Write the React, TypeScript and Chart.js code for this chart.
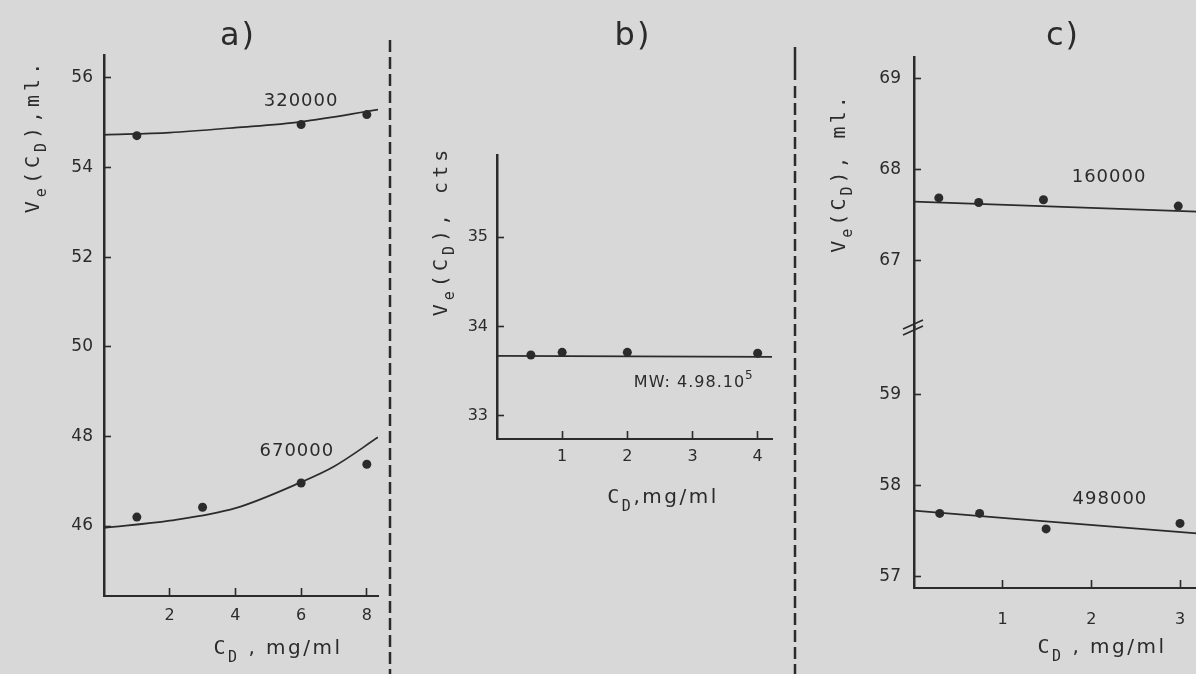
import React, { useEffect, useRef } from 'react';
import { Chart, registerables } from 'chart.js';

Chart.register(...registerables);

// ---------------- data ----------------
// panel a)
const a320X = [1, 6, 8];
const a320Y = [54.71, 54.96, 55.18];
const a320CurveX = [0, 2, 4, 6, 8.34];
const a320CurveY = [54.73, 54.78, 54.89, 55.02, 55.29];
const a670X = [1, 3, 6, 8];
const a670Y = [46.2, 46.42, 46.96, 47.38];
const a670CurveX = [0, 2, 4, 6, 7, 8.34];
const a670CurveY = [45.96, 46.12, 46.4, 46.98, 47.33, 47.98];
const aXTicks = [2, 4, 6, 8];
const aYTicks = [46, 48, 50, 52, 54, 56];

// panel b)
const bX = [0.52, 1, 2, 4];
const bY = [33.68, 33.71, 33.71, 33.7];
const bLineX = [0, 4.22];
const bLineY = [33.67, 33.66];
const bXTicks = [1, 2, 3, 4];
const bYTicks = [33, 34, 35];

// panel c)
const c160X = [0.28, 0.73, 1.46, 2.98];
const c160Y = [67.69, 67.64, 67.67, 67.6];
const c160LineX = [0, 3.19];
const c160LineY = [67.65, 67.54];
const c498X = [0.29, 0.74, 1.49, 3.0];
const c498Y = [57.69, 57.69, 57.52, 57.58];
const c498LineX = [0, 3.19];
const c498LineY = [57.72, 57.47];
const cXTicks = [1, 2, 3];
const cYTicksTop = [67, 68, 69];
const cYTicksBottom = [57, 58, 59];

// ---------------- style ----------------
const INK = '#2b2b2b';
const BG = '#d8d8d8';
const MONO = "'DejaVu Sans Mono', 'Liberation Mono', monospace";
const SANS = "'DejaVu Sans', 'Noto Sans', sans-serif";
const H = 674;

type Part = { t: string; font: string; dy?: number };

function drawParts(ctx: CanvasRenderingContext2D, parts: Part[], cx: number, baseY: number, rot: number, spacing: number) {
  ctx.save();
  ctx.translate(cx, baseY);
  ctx.rotate(rot);
  (ctx as any).letterSpacing = spacing + 'px';
  ctx.textAlign = 'left';
  ctx.textBaseline = 'alphabetic';
  ctx.fillStyle = INK;
  const widths = parts.map((p) => {
    ctx.font = p.font;
    return ctx.measureText(p.t).width;
  });
  const total = widths.reduce((s, w) => s + w, 0);
  let x = -total / 2;
  parts.forEach((p, i) => {
    ctx.font = p.font;
    ctx.fillText(p.t, x, p.dy || 0);
    x += widths[i];
  });
  ctx.restore();
}

const zip = (xs: number[], ys: number[]) => xs.map((x, i) => ({ x, y: ys[i] }));

const fixedTicks = (values: number[]) => (scale: any) => {
  scale.ticks = values.map((v) => ({ value: v }));
};

function xScale(min: number, max: number, ticks: number[], pad: number, h: number) {
  return {
    type: 'linear',
    position: 'bottom',
    min,
    max,
    afterBuildTicks: fixedTicks(ticks),
    afterFit: (s: any) => {
      s.height = h;
      s.paddingLeft = 0;
      s.paddingRight = 0;
    },
    border: { display: true, color: INK, width: 2 },
    grid: { drawOnChartArea: false, drawTicks: true, tickLength: -8, tickColor: INK, tickWidth: 1.6 },
    ticks: { color: INK, font: { family: SANS, size: 16 }, padding: pad, maxRotation: 0, autoSkip: false },
  };
}

function yScale(min: number, max: number, ticks: number[], size: number, pad: number, w: number, extra: any = {}) {
  return {
    type: 'linear',
    position: 'left',
    min,
    max,
    afterBuildTicks: fixedTicks(ticks),
    afterFit: (s: any) => {
      s.width = w;
      s.paddingTop = 0;
      s.paddingBottom = 0;
    },
    border: { display: true, color: INK, width: 2.5 },
    grid: { drawOnChartArea: false, drawTicks: true, tickLength: -7, tickColor: INK, tickWidth: 1.6 },
    ticks: { color: INK, font: { family: SANS, size }, padding: pad, autoSkip: false },
    ...extra,
  };
}

const curve = (xs: number[], ys: number[], yAxisID = 'y') => ({
  data: zip(xs, ys),
  yAxisID,
  showLine: true,
  borderColor: INK,
  borderWidth: 1.7,
  pointRadius: 0,
  cubicInterpolationMode: 'monotone',
  fill: false,
});

const dots = (xs: number[], ys: number[], yAxisID = 'y') => ({
  data: zip(xs, ys),
  yAxisID,
  showLine: false,
  backgroundColor: INK,
  borderColor: INK,
  borderWidth: 0,
  pointRadius: 4.5,
});

const baseOptions = (padding: any) => ({
  responsive: false,
  animation: false,
  devicePixelRatio: 1,
  events: [],
  layout: { padding },
  plugins: { legend: { display: false }, tooltip: { enabled: false }, title: { display: false } },
});

const mono = (s: number) => `${s}px ${MONO}`;
const sans = (s: number) => `${s}px ${SANS}`;

function buildA(canvas: HTMLCanvasElement) {
  const notes = {
    id: 'notesA',
    afterDraw(chart: any) {
      const ctx = chart.ctx as CanvasRenderingContext2D;
      const xs = chart.scales.x;
      const ys = chart.scales.y;
      drawParts(ctx, [{ t: '320000', font: sans(18) }], xs.getPixelForValue(6.0), ys.getPixelForValue(55.37), 0, 1);
      drawParts(ctx, [{ t: '670000', font: sans(18) }], xs.getPixelForValue(5.87), ys.getPixelForValue(47.56), 0, 1);
      drawParts(ctx, [{ t: 'a)', font: sans(32) }], 238, 45, 0, 2);
      drawParts(
        ctx,
        [
          { t: 'V', font: mono(20) },
          { t: 'e', font: mono(15), dy: 7 },
          { t: '(C', font: mono(20) },
          { t: 'D', font: mono(15), dy: 7 },
          { t: '),ml.', font: mono(20) },
        ],
        39,
        136,
        -Math.PI / 2,
        4
      );
      drawParts(
        ctx,
        [
          { t: 'C', font: mono(20) },
          { t: 'D', font: mono(15), dy: 8 },
          { t: ' , mg/ml', font: sans(20) },
        ],
        278,
        654,
        0,
        2.5
      );
      // separator
      ctx.save();
      ctx.strokeStyle = INK;
      ctx.lineWidth = 2.5;
      ctx.setLineDash([12, 5]);
      ctx.beginPath();
      ctx.moveTo(390, 40);
      ctx.lineTo(390, H);
      ctx.stroke();
      ctx.restore();
    },
  };
  return new Chart(canvas, {
    type: 'scatter',
    data: {
      datasets: [
        curve(a320CurveX, a320CurveY),
        dots(a320X, a320Y),
        curve(a670CurveX, a670CurveY),
        dots(a670X, a670Y),
      ] as any,
    },
    options: {
      ...baseOptions({ left: 44, right: 14, top: 55, bottom: 33 }),
      scales: {
        x: xScale(0, 8.34, aXTicks, 18.4, 45),
        y: yScale(44.44, 56.51, aYTicks, 17, 18, 60),
      },
    } as any,
    plugins: [notes],
  });
}

function buildB(canvas: HTMLCanvasElement) {
  const notes = {
    id: 'notesB',
    afterDraw(chart: any) {
      const ctx = chart.ctx as CanvasRenderingContext2D;
      const xs = chart.scales.x;
      const ys = chart.scales.y;
      drawParts(
        ctx,
        [
          { t: 'MW: 4.98.10', font: sans(16) },
          { t: '5', font: sans(12), dy: -8 },
        ],
        xs.getPixelForValue(3.02),
        ys.getPixelForValue(33.32),
        0,
        1
      );
      drawParts(ctx, [{ t: 'b)', font: sans(32) }], 633 - 392, 45, 0, 2);
      drawParts(
        ctx,
        [
          { t: 'V', font: mono(20) },
          { t: 'e', font: mono(15), dy: 7 },
          { t: '(C', font: mono(20) },
          { t: 'D', font: mono(15), dy: 7 },
          { t: '), cts', font: mono(20) },
        ],
        447 - 392,
        231,
        -Math.PI / 2,
        4
      );
      drawParts(
        ctx,
        [
          { t: 'C', font: mono(20) },
          { t: 'D', font: mono(15), dy: 8 },
          { t: ',mg/ml', font: sans(20) },
        ],
        663 - 392,
        503,
        0,
        2.5
      );
      // separator (solid top piece, then dashed)
      const sx = 795 - 392;
      ctx.save();
      ctx.strokeStyle = INK;
      ctx.lineWidth = 2.5;
      ctx.beginPath();
      ctx.moveTo(sx, 47);
      ctx.lineTo(sx, 80);
      ctx.stroke();
      ctx.setLineDash([12, 5]);
      ctx.beginPath();
      ctx.moveTo(sx, 86);
      ctx.lineTo(sx, H);
      ctx.stroke();
      ctx.restore();
    },
  };
  return new Chart(canvas, {
    type: 'scatter',
    data: {
      datasets: [curve(bLineX, bLineY), dots(bX, bY)] as any,
    },
    options: {
      ...baseOptions({ left: 55, right: 28, top: 155, bottom: 195 }),
      scales: {
        x: xScale(0, 4.22, bXTicks, 16.4, 40),
        y: yScale(32.74, 35.92, bYTicks, 16, 16, 50),
      },
    } as any,
    plugins: [notes],
  });
}

function buildC(canvas: HTMLCanvasElement) {
  const notes = {
    id: 'notesC',
    afterDraw(chart: any) {
      const ctx = chart.ctx as CanvasRenderingContext2D;
      const xs = chart.scales.x;
      const yt = chart.scales.yt;
      const yb = chart.scales.yb;
      drawParts(ctx, [{ t: '160000', font: sans(18) }], xs.getPixelForValue(2.2), yt.getPixelForValue(67.86), 0, 1);
      drawParts(ctx, [{ t: '498000', font: sans(18) }], xs.getPixelForValue(2.21), yb.getPixelForValue(57.79), 0, 1);
      drawParts(ctx, [{ t: 'c)', font: sans(32) }], 1063 - 800, 45, 0, 2);
      drawParts(
        ctx,
        [
          { t: 'V', font: mono(20) },
          { t: 'e', font: mono(15), dy: 7 },
          { t: '(C', font: mono(20) },
          { t: 'D', font: mono(15), dy: 7 },
          { t: '), ml.', font: mono(20) },
        ],
        845 - 800,
        173,
        -Math.PI / 2,
        3
      );
      drawParts(
        ctx,
        [
          { t: 'C', font: mono(20) },
          { t: 'D', font: mono(15), dy: 8 },
          { t: ' , mg/ml', font: sans(20) },
        ],
        1102 - 800,
        653,
        0,
        2.5
      );
      // axis break mark
      const ax = chart.chartArea.left;
      const by = yt.bottom;
      ctx.save();
      ctx.strokeStyle = INK;
      ctx.lineWidth = 1.8;
      for (const off of [-3, 3]) {
        ctx.beginPath();
        ctx.moveTo(ax - 11, by + 5 + off);
        ctx.lineTo(ax + 9, by - 4 + off);
        ctx.stroke();
      }
      ctx.restore();
    },
  };
  return new Chart(canvas, {
    type: 'scatter',
    data: {
      datasets: [
        curve(c160LineX, c160LineY, 'yt'),
        dots(c160X, c160Y, 'yt'),
        curve(c498LineX, c498LineY, 'yb'),
        dots(c498X, c498Y, 'yb'),
      ] as any,
    },
    options: {
      ...baseOptions({ left: 54, right: 0, top: 57, bottom: 36 }),
      scales: {
        x: xScale(0, 3.186, cXTicks, 30.4, 50),
        yb: yScale(56.87, 59.74, cYTicksBottom, 17, 20, 60, { stack: 'c', stackWeight: 261 }),
        yt: yScale(66.27, 69.24, cYTicksTop, 17, 20, 60, { stack: 'c', stackWeight: 270 }),
      },
    } as any,
    plugins: [notes],
  });
}

function Panel({ left, width, build }: { left: number; width: number; build: (c: HTMLCanvasElement) => Chart }) {
  const ref = useRef<HTMLCanvasElement>(null);
  useEffect(() => {
    const chart = build(ref.current as HTMLCanvasElement);
    return () => chart.destroy();
  }, []);
  return (
    <canvas
      ref={ref}
      width={width}
      height={H}
      style={{ position: 'absolute', left, top: 0, width, height: H, display: 'block' }}
    />
  );
}

export default function App() {
  return (
    <div
      style={{
        position: 'absolute',
        left: 0,
        top: 0,
        width: 1196,
        height: H,
        background: BG,
        overflow: 'hidden',
      }}
    >
      <Panel left={0} width={392} build={buildA} />
      <Panel left={392} width={408} build={buildB} />
      <Panel left={800} width={401} build={buildC} />
    </div>
  );
}
